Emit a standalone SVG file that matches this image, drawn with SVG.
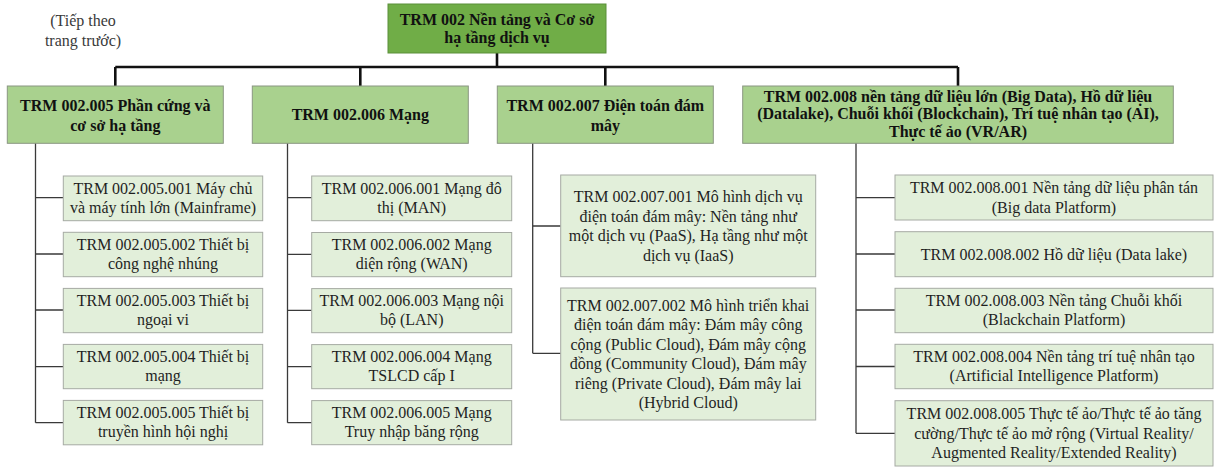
<svg xmlns="http://www.w3.org/2000/svg" width="1214" height="468" viewBox="0 0 1214 468">
<style>
text{font-family:"Liberation Serif","Times New Roman",serif;font-size:16px;text-anchor:middle;fill:#1f1f1f}
.b{font-weight:bold;fill:#111}
.note{fill:#3a3a3a}
.root{fill:#70ad47;stroke:#5b8f3a;stroke-width:1}
.l2{fill:#a9d18e;stroke:#8a9682;stroke-width:1}
.l3{fill:#e2efda;stroke:#a6aaa3;stroke-width:1}
.thick{stroke:#111;stroke-width:2.6;fill:none}
.thin{stroke:#3a3a3a;stroke-width:1.3;fill:none}
</style>
<rect width="1214" height="468" fill="#fff"/>
<g id="note">
<text class="note" x="83" y="25.5">(Tiếp theo</text>
<text class="note" x="83" y="45.5">trang trước)</text>
</g>
<g id="connectors">
<path class="thick" d="M497 53V67M115.3 67H958M115.3 67V86M360.3 67V86M605.3 67V86M958 67V86"/>
<path class="thin" d="M35.5 143V422.7M35.5 197.7H63M35.5 254H63M35.5 310H63M35.5 366.7H63M35.5 422.7H63"/>
<path class="thin" d="M287.5 143V422.7M287.5 197.7H311.7M287.5 254.3H311.7M287.5 310.3H311.7M287.5 366.7H311.7M287.5 422.7H311.7"/>
<path class="thin" d="M532.7 143V353.3M532.7 226H560.7M532.7 353.3H560.7"/>
<path class="thin" d="M856 143V433.3M856 197.7H895M856 254H895M856 310H895M856 366.5H895M856 433.3H895"/>
</g>
<g id="root">
<rect class="root" x="388" y="4" width="218" height="49"/>
<text class="b" x="497" y="25">TRM 002 Nền tảng và Cơ sở</text>
<text class="b" x="497" y="43">hạ tầng dịch vụ</text>
</g>
<g id="n005">
<rect class="l2" x="7.3" y="86" width="216" height="57.3"/>
<text class="b" x="115.3" y="110.5">TRM 002.005 Phần cứng và</text>
<text class="b" x="115.3" y="130.5">cơ sở hạ tầng</text>
</g>
<g id="n006">
<rect class="l2" x="252.3" y="86" width="216" height="57.3"/>
<text class="b" x="360.3" y="120.3">TRM 002.006 Mạng</text>
</g>
<g id="n007">
<rect class="l2" x="497.3" y="86" width="216" height="57.3"/>
<text class="b" x="605.3" y="110.5">TRM 002.007 Điện toán đám</text>
<text class="b" x="605.3" y="130.5">mây</text>
</g>
<g id="n008">
<rect class="l2" x="742.7" y="86" width="430.6" height="57.3"/>
<text class="b" x="958" y="101.5">TRM 002.008 nền tảng dữ liệu lớn (Big Data), Hồ dữ liệu</text>
<text class="b" x="958" y="119">(Datalake), Chuỗi khối (Blockchain), Trí tuệ nhân tạo (AI),</text>
<text class="b" x="958" y="136.5">Thực tế ảo (VR/AR)</text>
</g>
<g id="n005001">
<rect class="l3" x="63.3" y="176" width="199.4" height="44.7"/>
<text x="163" y="193.6">TRM 002.005.001 Máy chủ</text>
<text x="163" y="213.1">và máy tính lớn (Mainframe)</text>
</g>
<g id="n005002">
<rect class="l3" x="63.3" y="232.3" width="199.4" height="44.4"/>
<text x="163" y="249.8">TRM 002.005.002 Thiết bị</text>
<text x="163" y="269.3">công nghệ nhúng</text>
</g>
<g id="n005003">
<rect class="l3" x="63.3" y="288.4" width="199.4" height="44.3"/>
<text x="163" y="305.8">TRM 002.005.003 Thiết bị</text>
<text x="163" y="325.3">ngoại vi</text>
</g>
<g id="n005004">
<rect class="l3" x="63.3" y="344.4" width="199.4" height="44.3"/>
<text x="163" y="361.8">TRM 002.005.004 Thiết bị</text>
<text x="163" y="381.3">mạng</text>
</g>
<g id="n005005">
<rect class="l3" x="63.3" y="400.4" width="199.4" height="44.4"/>
<text x="163" y="417.8">TRM 002.005.005 Thiết bị</text>
<text x="163" y="437.3">truyền hình hội nghị</text>
</g>
<g id="n006001">
<rect class="l3" x="311.7" y="176" width="200" height="44.7"/>
<text x="411.7" y="193.6">TRM 002.006.001 Mạng đô</text>
<text x="411.7" y="213.1">thị (MAN)</text>
</g>
<g id="n006002">
<rect class="l3" x="311.7" y="232.5" width="200" height="44.2"/>
<text x="411.7" y="249.8">TRM 002.006.002 Mạng</text>
<text x="411.7" y="269.3">diện rộng (WAN)</text>
</g>
<g id="n006003">
<rect class="l3" x="311.7" y="288.6" width="200" height="44.1"/>
<text x="411.7" y="305.8">TRM 002.006.003 Mạng nội</text>
<text x="411.7" y="325.3">bộ (LAN)</text>
</g>
<g id="n006004">
<rect class="l3" x="311.7" y="344.6" width="200" height="44.1"/>
<text x="411.7" y="361.8">TRM 002.006.004 Mạng</text>
<text x="411.7" y="381.3">TSLCD cấp I</text>
</g>
<g id="n006005">
<rect class="l3" x="311.7" y="400.6" width="200" height="44.1"/>
<text x="411.7" y="417.8">TRM 002.006.005 Mạng</text>
<text x="411.7" y="437.3">Truy nhập băng rộng</text>
</g>
<g id="n007001">
<rect class="l3" x="560.7" y="175" width="255" height="101.7"/>
<text x="688.2" y="202.2">TRM 002.007.001 Mô hình dịch vụ</text>
<text x="688.2" y="221.7">điện toán đám mây: Nền tảng như</text>
<text x="688.2" y="241.2">một dịch vụ (PaaS), Hạ tầng như một</text>
<text x="688.2" y="260.7">dịch vụ (IaaS)</text>
</g>
<g id="n007002">
<rect class="l3" x="560.7" y="288" width="255" height="132"/>
<text x="688.2" y="310.8">TRM 002.007.002 Mô hình triển khai</text>
<text x="688.2" y="330.3">điện toán đám mây: Đám mây công</text>
<text x="688.2" y="349.8">cộng (Public Cloud), Đám mây cộng</text>
<text x="688.2" y="369.3">đồng (Community Cloud), Đám mây</text>
<text x="688.2" y="388.8">riêng (Private Cloud), Đám mây lai</text>
<text x="688.2" y="408.3">(Hybrid Cloud)</text>
</g>
<g id="n008001">
<rect class="l3" x="895" y="175" width="318" height="45"/>
<text x="1054" y="193">TRM 002.008.001 Nền tảng dữ liệu phân tán</text>
<text x="1054" y="212.5">(Big data Platform)</text>
</g>
<g id="n008002">
<rect class="l3" x="895" y="231.7" width="318" height="45"/>
<text x="1054" y="259.7">TRM 002.008.002 Hồ dữ liệu (Data lake)</text>
</g>
<g id="n008003">
<rect class="l3" x="895" y="288.3" width="318" height="44.4"/>
<text x="1054" y="305.8">TRM 002.008.003 Nền tảng Chuỗi khối</text>
<text x="1054" y="325.3">(Blackchain Platform)</text>
</g>
<g id="n008004">
<rect class="l3" x="895" y="344.3" width="318" height="44.4"/>
<text x="1054" y="361.8">TRM 002.008.004 Nền tảng trí tuệ nhân tạo</text>
<text x="1054" y="381.3">(Artificial Intelligence Platform)</text>
</g>
<g id="n008005">
<rect class="l3" x="895" y="400.7" width="318" height="65.3"/>
<text x="1054" y="419.3">TRM 002.008.005 Thực tế ảo/Thực tế ảo tăng</text>
<text x="1054" y="438.8">cường/Thực tế ảo mở rộng (Virtual Reality/</text>
<text x="1054" y="458.3">Augmented Reality/Extended Reality)</text>
</g>
</svg>
